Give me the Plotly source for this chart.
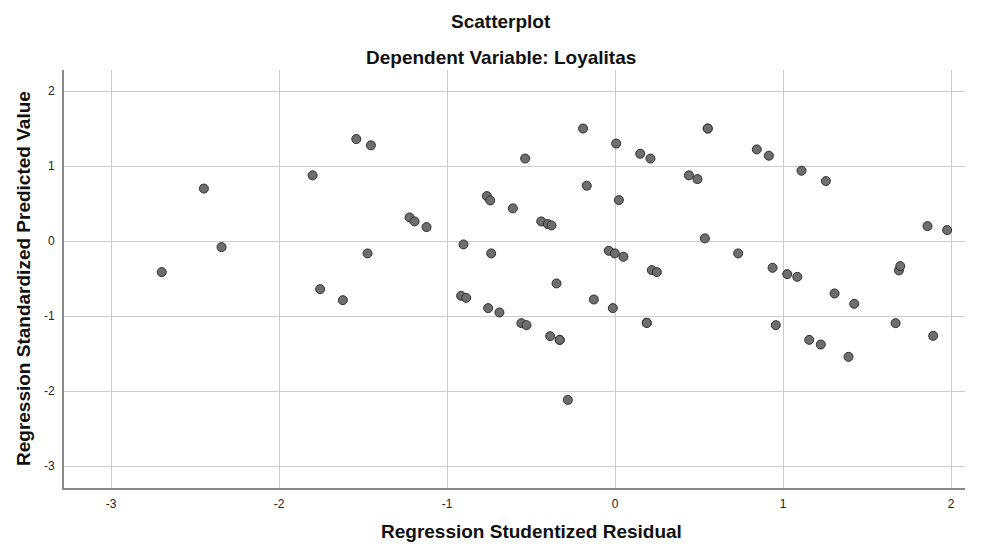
import plotly.graph_objects as go

# Regression Studentized Residual (x) vs Regression Standardized Predicted Value (y)
residual = [
    -2.698, -2.447, -2.342, -1.800, -1.755, -1.620, -1.540, -1.473, -1.453,
    -1.223, -1.193, -1.122, -0.916, -0.902, -0.886, -0.763, -0.755, -0.743,
    -0.737, -0.688, -0.608, -0.557, -0.535, -0.527, -0.439, -0.400, -0.386,
    -0.378, -0.348, -0.329, -0.329, -0.281, -0.190, -0.168, -0.126, -0.037,
    -0.013, -0.001, 0.007, 0.023, 0.050, 0.150, 0.189, 0.189, 0.211, 0.219,
    0.249, 0.440, 0.491, 0.535, 0.552, 0.552, 0.733, 0.844, 0.916, 0.938,
    0.957, 1.025, 1.085, 1.110, 1.156, 1.225, 1.255, 1.307, 1.390, 1.424,
    1.670, 1.690, 1.698, 1.860, 1.894, 1.977,
]
predicted = [
    -0.413, 0.700, -0.080, 0.876, -0.640, -0.787, 1.360, -0.164, 1.276,
    0.316, 0.262, 0.187, -0.729, -0.044, -0.756, 0.600, -0.893, 0.542,
    -0.164, -0.951, 0.436, -1.093, 1.100, -1.120, 0.262, 0.227, -1.267,
    0.209, -0.564, -1.316, -1.316, -2.116, 1.500, 0.738, -0.778, -0.129,
    -0.893, -0.164, 1.300, 0.547, -0.209, 1.164, -1.089, -1.089, 1.100, -0.387,
    -0.413, 0.876, 0.827, 0.036, 1.500, 1.500, -0.164, 1.222, 1.138, -0.356,
    -1.120, -0.440, -0.476, 0.938, -1.316, -1.378, 0.800, -0.698, -1.542, -0.836,
    -1.093, -0.391, -0.333, 0.200, -1.262, 0.147,
]

x_ticks = [-3, -2, -1, 0, 1, 2]
y_ticks = [-3, -2, -1, 0, 1, 2]

title_1 = "Scatterplot"
title_2 = "Dependent Variable: Loyalitas"
x_title = "Regression Studentized Residual"
y_title = "Regression Standardized Predicted Value"

# page has an 8px body margin; size the figure so it lands on the 990x544 frame
OFF = 8
W, H = 990 - OFF, 544 - OFF
ML, MR, MT, MB = 64 - OFF, 25, 70 - OFF, 56
PW, PH = W - ML - MR, H - MT - MB

FONT = "Liberation Sans, Arial, sans-serif"

def px_x(px):
    return (px - OFF - ML) / PW

def px_y(py):
    return (H - MB - (py - OFF)) / PH

fig = go.Figure()
fig.add_trace(go.Scatter(
    x=residual, y=predicted, mode="markers",
    marker=dict(size=9, color="#6e6e6e", line=dict(color="#2e2e2e", width=1)),
    showlegend=False, hoverinfo="x+y",
))

axis_common = dict(
    showgrid=True, gridcolor="#cccccc", gridwidth=1,
    zeroline=False, showline=True, linecolor="#8a8a8a", linewidth=2,
    ticks="outside", tickcolor="rgba(0,0,0,0)",
    tickfont=dict(family=FONT, size=12, color="#222222"),
)

fig.update_layout(
    width=W, height=H,
    margin=dict(l=ML, r=MR, t=MT, b=MB, pad=0),
    paper_bgcolor="white", plot_bgcolor="white",
    xaxis=dict(range=[-3.2798, 2.0833], tickvals=x_ticks,
               ticktext=[str(v) for v in x_ticks], ticklen=4, **axis_common),
    yaxis=dict(range=[-3.29, 2.28], tickvals=y_ticks,
               ticktext=[str(v) for v in y_ticks], ticklen=5, **axis_common),
    annotations=[
        dict(text="<b>%s</b>" % title_1, xref="paper", yref="paper",
             x=px_x(500.5), y=px_y(21), xanchor="center", yanchor="middle",
             showarrow=False, font=dict(family=FONT, size=19, color="#111111")),
        dict(text="<b>%s</b>" % title_2, xref="paper", yref="paper",
             x=px_x(500.5), y=px_y(57), xanchor="center", yanchor="middle",
             showarrow=False, font=dict(family=FONT, size=19, color="#111111")),
        dict(text="<b>%s</b>" % x_title, xref="paper", yref="paper",
             x=px_x(531.5), y=px_y(531), xanchor="center", yanchor="middle",
             showarrow=False, font=dict(family=FONT, size=19, color="#111111")),
        dict(text="<b>%s</b>" % y_title, xref="paper", yref="paper",
             x=px_x(23), y=px_y(279), xanchor="center", yanchor="middle",
             textangle=-90, showarrow=False,
             font=dict(family=FONT, size=19, color="#111111")),
    ],
)

fig.write_html("out.html")
